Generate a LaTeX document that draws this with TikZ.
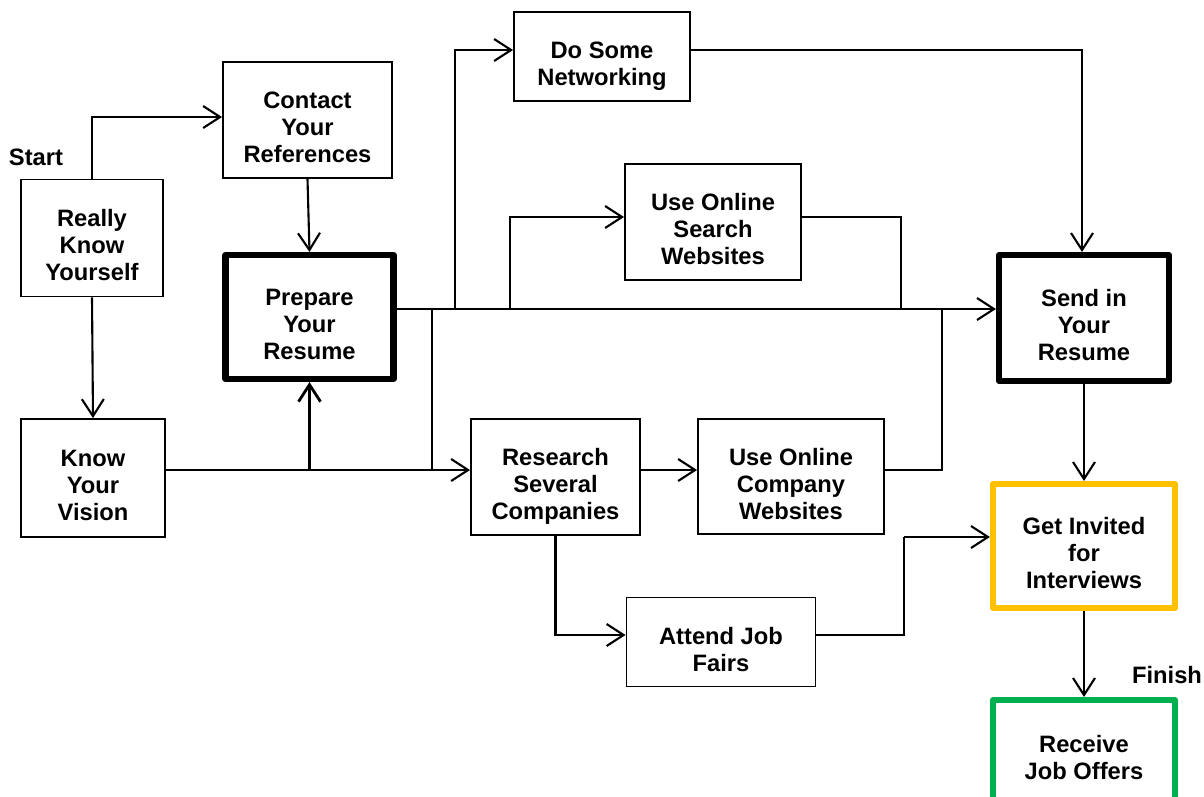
\documentclass[tikz,border=0pt]{standalone}
\usepackage{fontspec}
\setmainfont{Liberation Sans}
\usetikzlibrary{arrows.meta,positioning,calc}
\definecolor{invitecol}{HTML}{FFC000}
\definecolor{offercol}{HTML}{00B050}
\newcommand{\boxtxt}[1]{\raisebox{-0.21cm}[\height][\depth]{\begin{tabular}{@{}c@{}}#1\end{tabular}}}

\begin{document}
\begin{tikzpicture}[x=0.02cm, y=-0.02cm,
  stepbox/.style={rectangle, draw, line width=1.1pt, minimum width=#1, inner sep=2pt,
    font=\fontsize{13.5}{15.4}\selectfont\bfseries},
  keybox/.style={stepbox=#1, line width=3.5pt, line join=round},
  arr/.style={-{Straight Barb[length=0.34cm, width=0.44cm]}, line width=1.2pt},
  link/.style={line width=1.2pt},
  tag/.style={font=\fontsize{13.5}{15.4}\selectfont\bfseries}
]
  \useasboundingbox (0,0) rectangle (1204,796);

  \node[stepbox=2.84cm, minimum height=2.34cm] (know) at (92,238) {\boxtxt{Really\\Know\\Yourself}};
  \node[stepbox=3.38cm, minimum height=2.32cm] (contact) at (307.5,120) {\boxtxt{Contact\\Your\\References}};
  \node[keybox=3.36cm, minimum height=2.48cm] (prepare) at (309.5,317) {\boxtxt{Prepare\\Your\\Resume}};
  \node[stepbox=2.88cm, minimum height=2.36cm] (vision) at (93,478) {\boxtxt{Know\\Your\\Vision}};
  \node[stepbox=3.52cm, minimum height=1.78cm] (network) at (602,56.5) {\boxtxt{Do Some\\Networking}};
  \node[stepbox=3.52cm, minimum height=2.32cm] (search) at (713,222) {\boxtxt{Use Online\\Search\\Websites}};
  \node[keybox=3.40cm, minimum height=2.52cm] (send) at (1084,318) {\boxtxt{Send in\\Your\\Resume}};
  \node[stepbox=3.38cm, minimum height=2.32cm] (research) at (555.5,477) {\boxtxt{Research\\Several\\Companies}};
  \node[stepbox=3.72cm, minimum height=2.30cm] (company) at (791,476.5) {\boxtxt{Use Online\\Company\\Websites}};
  \node[stepbox=3.78cm, minimum height=1.78cm] (fairs) at (721,642) {\boxtxt{Attend Job\\Fairs}};
  \node[keybox=3.64cm, minimum height=2.48cm, draw=invitecol] (invited) at (1084,546) {\boxtxt{Get Invited\\for\\Interviews}};
  \node[keybox=3.64cm, minimum height=2.0cm, draw=offercol] (offers) at (1084,750) {\boxtxt{Receive\\Job Offers}};

  \node[tag] (start) at (36,157) {Start};
  \node[tag] (finish) at (1167,675) {Finish};

  \coordinate (trunk) at (455,309);
  \coordinate (fork) at (510,309);
  \coordinate (drop) at (432,309);
  \coordinate (low) at (432,470);
  \coordinate (mergea) at (901,309);
  \coordinate (mergeb) at (942,309);
  \coordinate (jog) at (904,537);

  \draw[arr] (know.north) |- ([yshift=0.06cm]contact.west);
  \draw[arr] (know.south) -- (vision.north);
  \draw[arr] (contact.south) -- (prepare.north);
  \draw[arr, line width=1.6pt] (vision.east |- low) -| (prepare.south);
  \draw[arr] (vision.east |- low) -- (research.west |- low);
  \draw[arr] (prepare.east |- trunk) -- (send.west |- trunk);
  \draw[arr] (trunk) |- ([yshift=0.13cm]network.west);
  \draw[arr] (fork) |- ([yshift=0.1cm]search.west);
  \draw[link] (drop) -- (low);
  \draw[link] ([yshift=0.1cm]search.east) -| (mergea);
  \draw[arr] ([yshift=0.13cm]network.east) -| ([xshift=-0.04cm]send.north);
  \draw[arr] (research.east |- low) -- (company.west |- low);
  \draw[link] (company.east |- low) -| (mergeb);
  \draw[arr] (research.south) |- ([yshift=0.14cm]fairs.west);
  \draw[link] ([yshift=0.14cm]fairs.east) -| (jog);
  \draw[arr] (jog) -- (invited.west |- jog);
  \draw[arr] (send.south) -- (invited.north);
  \draw[arr] (invited.south) -- (offers.north);
\end{tikzpicture}
\end{document}
